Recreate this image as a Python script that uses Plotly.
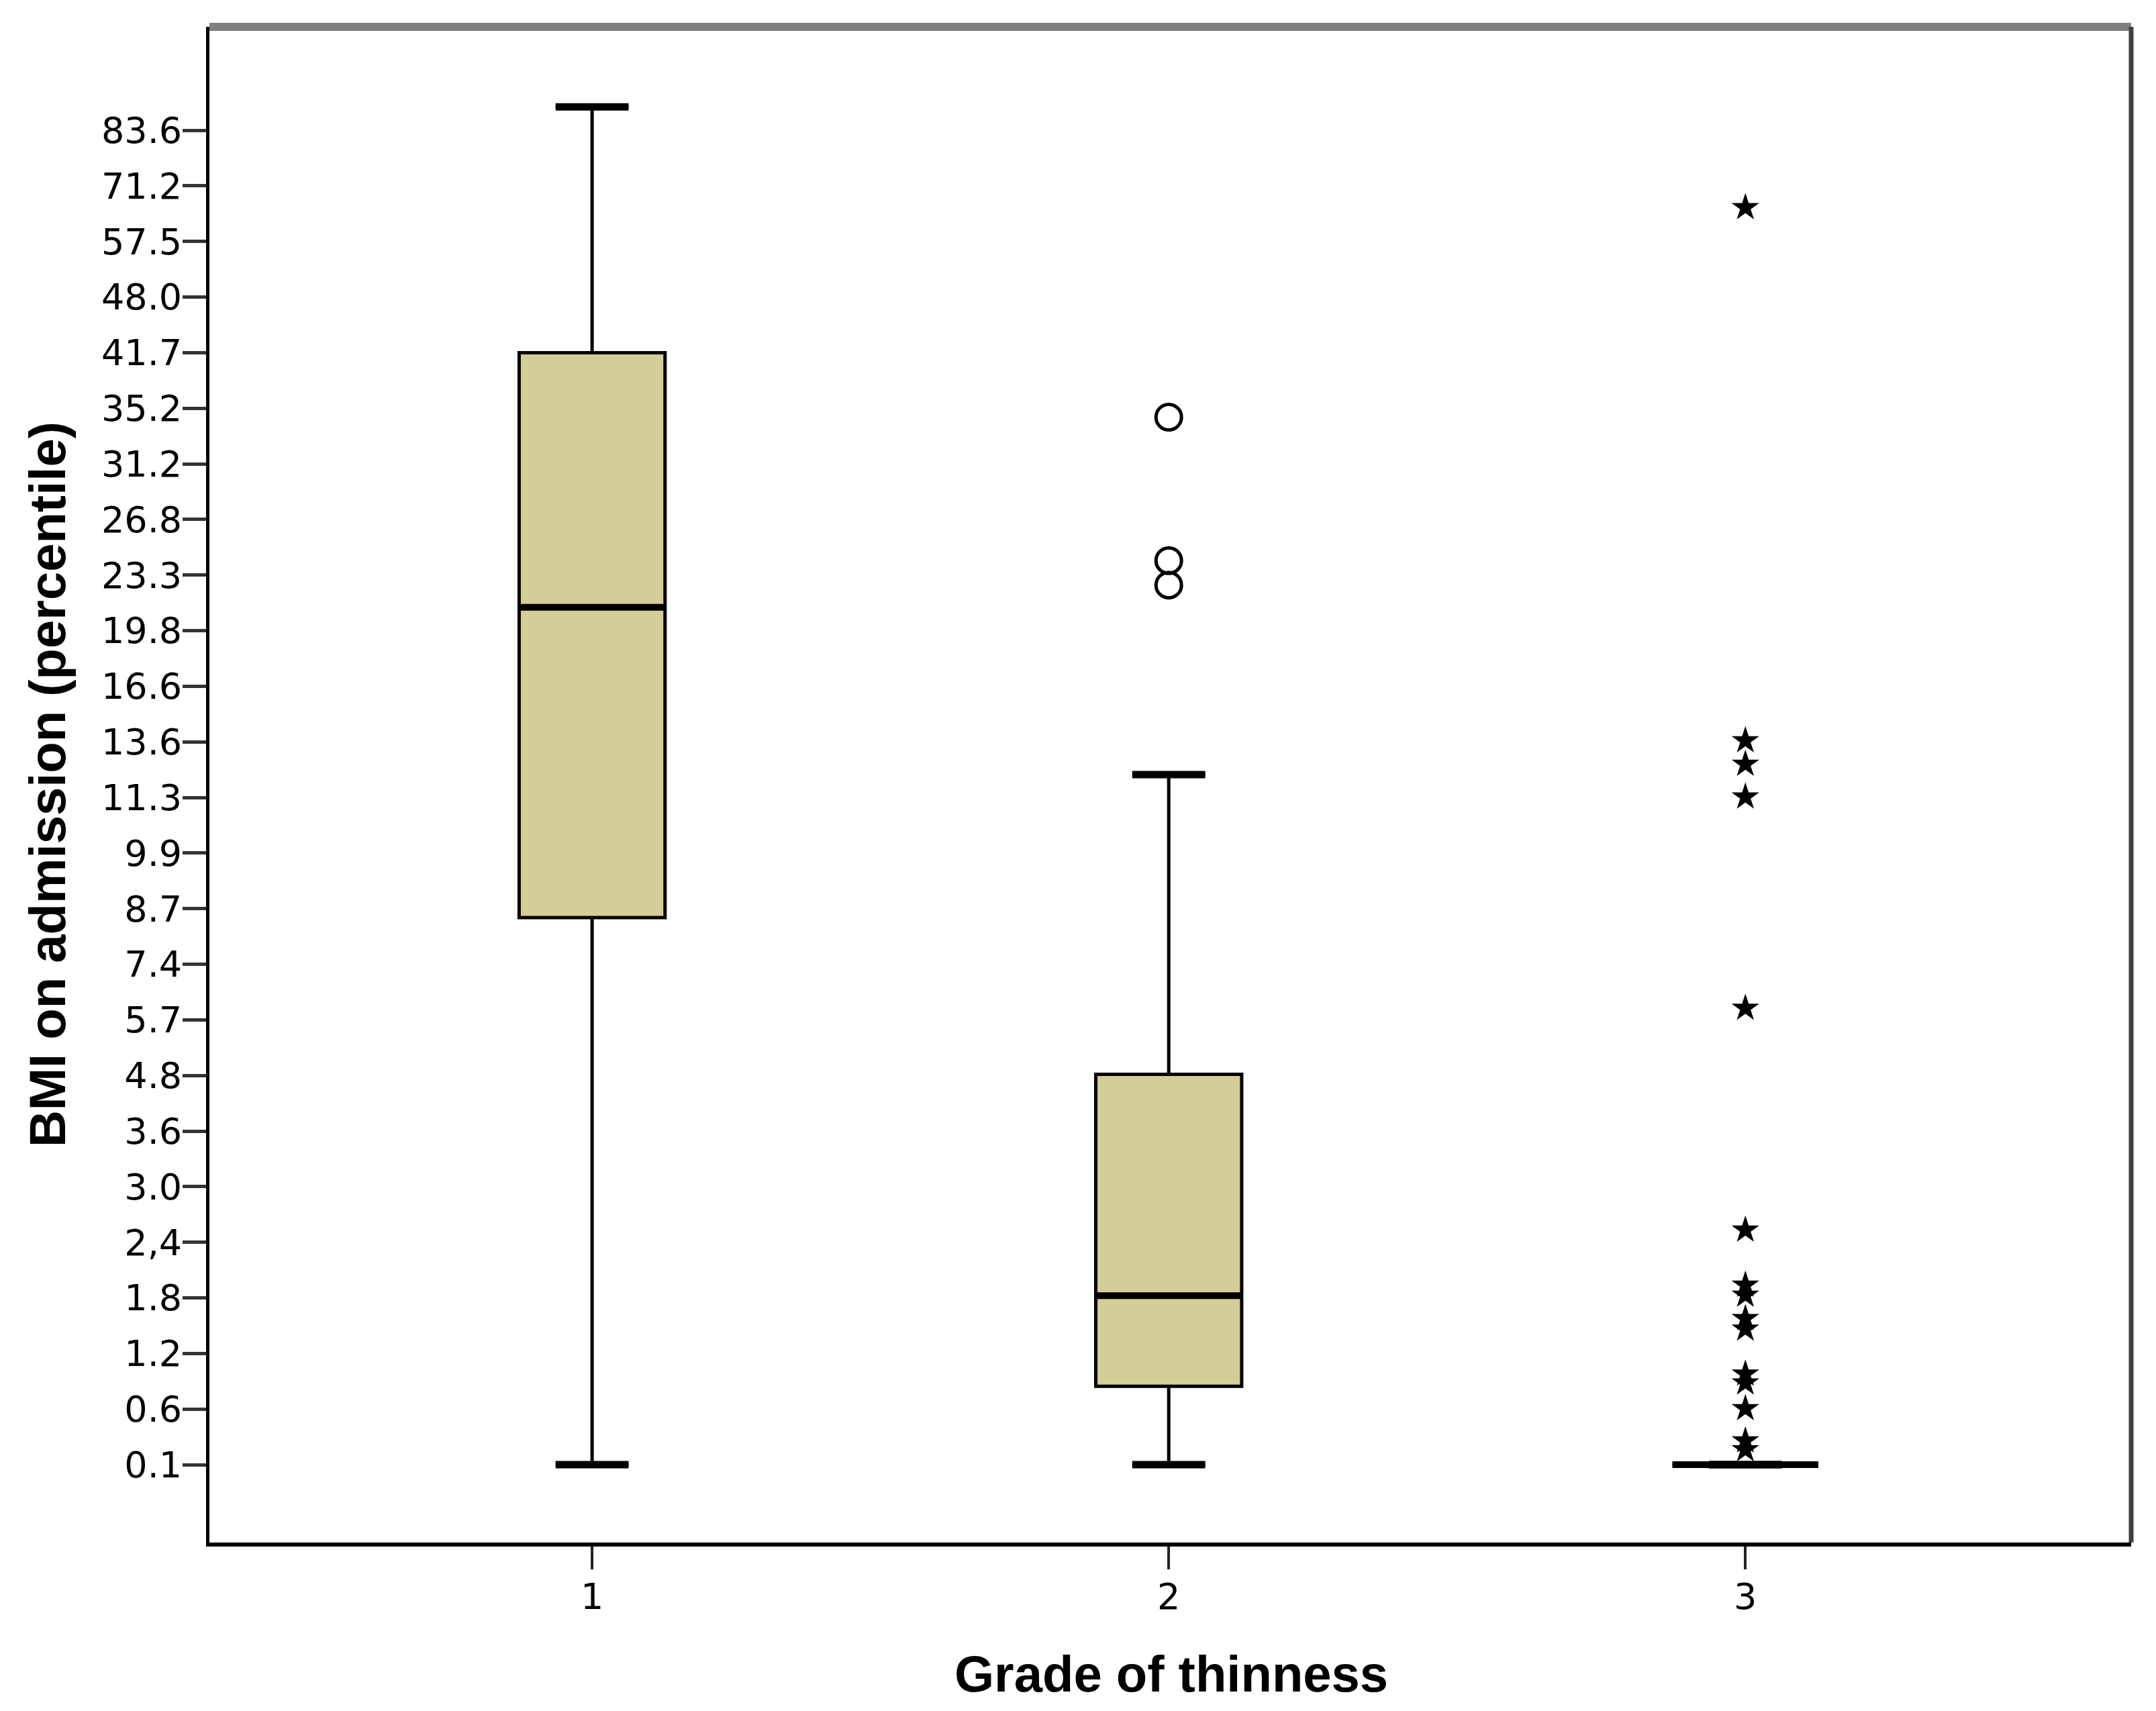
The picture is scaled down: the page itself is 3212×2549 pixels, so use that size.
import plotly.graph_objects as go

# y axis in SPSS is a rank scale: evenly spaced ticks with these labels
y_tick_labels = ["0.1", "0.6", "1.2", "1.8", "2,4", "3.0", "3.6", "4.8", "5.7", "7.4",
                 "8.7", "9.9", "11.3", "13.6", "16.6", "19.8", "23.3", "26.8", "31.2",
                 "35.2", "41.7", "48.0", "57.5", "71.2", "83.6"]
y_tick_pos = list(range(len(y_tick_labels)))

# box summaries per grade, in tick-position units
grades = [1, 2, 3]
lower_fence = [0.0, 0.0, 0.0]
q1 = [9.84, 1.41, 0.0]
median = [15.42, 3.04, 0.0]
q3 = [20.0, 7.02, 0.0]
upper_fence = [24.42, 12.41, 0.0]

# outliers (circles) and extremes (stars)
circle_x = [2, 2, 2]
circle_y = [18.84, 16.26, 15.82]
star_x = [3] * 15
star_y = [22.61, 13.02, 12.60, 12.01, 8.21, 4.22, 3.23, 3.05, 2.63, 2.44,
          1.63, 1.47, 1.01, 0.43, 0.27]

BOX_W = 0.253
FILL = "#D3CD97"
TICK_FONT = dict(family="DejaVu Sans", size=54, color="black")

fig = go.Figure()

fig.add_trace(go.Box(
    x=grades, q1=q1, median=median, q3=q3,
    lowerfence=lower_fence, upperfence=upper_fence,
    width=BOX_W, whiskerwidth=0.5,
    fillcolor=FILL,
    line=dict(color="black", width=5),
    boxpoints=False, hoverinfo="skip",
    showlegend=False,
))

# thicker median bars and whisker caps, as in SPSS output
for g, m, lo, hi in zip(grades, median, lower_fence, upper_fence):
    fig.add_trace(go.Scatter(
        x=[g - BOX_W / 2, g + BOX_W / 2], y=[m, m],
        mode="lines", line=dict(color="black", width=10),
        showlegend=False, hoverinfo="skip",
    ))
    for v in (lo, hi):
        fig.add_trace(go.Scatter(
            x=[g - BOX_W / 4, g + BOX_W / 4], y=[v, v],
            mode="lines", line=dict(color="black", width=11),
            showlegend=False, hoverinfo="skip",
        ))

fig.add_trace(go.Scatter(
    x=circle_x, y=circle_y, mode="markers",
    marker=dict(symbol="circle-open", size=38, color="black", line=dict(width=5)),
    showlegend=False,
))

fig.add_trace(go.Scatter(
    x=star_x, y=star_y, mode="markers",
    marker=dict(symbol="star", size=31, color="black", line=dict(width=0)),
    showlegend=False,
))

fig.update_layout(
    width=3212, height=2549,
    margin=dict(l=304, r=45, t=32, b=259),
    plot_bgcolor="white", paper_bgcolor="white",
    font=dict(family="Liberation Sans, Arial", color="black", size=54),
    xaxis=dict(
        range=[0.3364, 3.669], tickvals=grades, ticktext=[str(g) for g in grades],
        showgrid=False, zeroline=False,
        showline=True, linecolor="black", linewidth=6,
        ticks="outside", ticklen=34, tickwidth=4, tickcolor="#222",
        tickfont=TICK_FONT, ticklabelstandoff=-6,
    ),
    yaxis=dict(
        range=[-1.40, 25.86], tickvals=y_tick_pos, ticktext=y_tick_labels,
        showgrid=False, zeroline=False,
        showline=True, linecolor="black", linewidth=5,
        ticks="outside", ticklen=35, tickwidth=5, tickcolor="#333",
        tickfont=TICK_FONT, ticklabelstandoff=-10,
    ),
    shapes=[
        dict(type="line", xref="paper", yref="paper", x0=0, x1=1, y0=1, y1=1,
             line=dict(color="#808080", width=12)),
        dict(type="line", xref="paper", yref="paper", x0=1, x1=1, y0=0, y1=1,
             line=dict(color="#404040", width=7)),
    ],
    annotations=[
        dict(text="<b>Grade of thinness</b>", xref="paper", yref="paper",
             x=0.5005, y=-0.0864, xanchor="center", yanchor="middle",
             showarrow=False, font=dict(size=76)),
        dict(text="<b>BMI on admission (percentile)</b>", xref="paper", yref="paper",
             x=-0.0845, y=0.5, xanchor="center", yanchor="middle", textangle=-90,
             showarrow=False, font=dict(size=76)),
    ],
)

fig.write_html("out.html")
